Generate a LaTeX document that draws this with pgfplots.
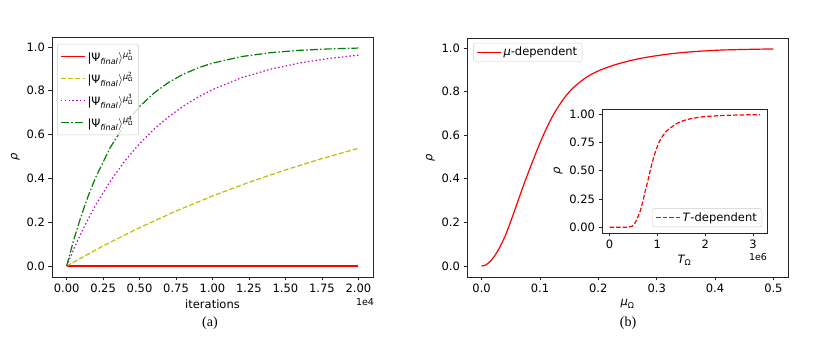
\documentclass[border=0pt]{standalone}
\usepackage{amsmath}
\usepackage{fontspec}
\setmainfont{DejaVu Sans}
\newfontfamily\capfont{Liberation Serif}
\usepackage{pgfplots}
\pgfplotsset{compat=1.18}

\definecolor{mplred}{rgb}{1,0,0}
\definecolor{mplyellow}{rgb}{0.75,0.75,0}
\definecolor{mplmagenta}{rgb}{0.75,0,0.75}
\definecolor{mplgreen}{rgb}{0,0.5,0}

\pgfplotsset{
  mpl/.style={
    scale only axis,
    axis line style={black!85, line width=0.6pt},
    tick align=outside,
    xtick pos=bottom, ytick pos=left,
    major tick length=3.5pt,
    tick style={black!85, line width=0.6pt},
    /pgf/number format/assume math mode=true,
    ticklabel style={font=\fontsize{11.5}{13}\selectfont},
    label style={font=\fontsize{11.5}{13}\selectfont},
    scaled ticks=false,
    axis background/.style={fill=white},
    legend cell align=left,
    legend style={draw=black!20, rounded corners=2pt, fill=white, fill opacity=0.8,
      text opacity=1, font=\fontsize{11.5}{13}\selectfont, row sep=1pt,
      inner xsep=3pt, inner ysep=2pt},
    legend image code/.code={\draw[##1] (0pt,0pt) -- (24pt,0pt);},
  },
  yrho/.style={ylabel={\textit{ρ}}},
}

\begin{document}
\begin{tikzpicture}[x=1pt,y=1pt]
\useasboundingbox (0,0) rectangle (830,337);

% (a) convergence over iterations
\begin{axis}[mpl, at={(52pt,60pt)}, anchor=south west,
  width=321pt, height=240pt,
  xmin=-0.1, xmax=2.1, ymin=-0.05, ymax=1.045,
  xtick={0,0.25,...,2.0},
  xticklabel style={/pgf/number format/.cd, fixed, fixed zerofill, precision=2},
  ytick={0,0.2,...,1.0},
  yticklabel style={/pgf/number format/.cd, fixed, fixed zerofill, precision=1},
  xlabel={iterations}, yrho,
  legend style={at={(0.016,0.971)}, anchor=north west, row sep=5pt, inner ysep=4pt},
]
\addplot[mplred, line width=1.2pt] coordinates {(0,0) (2,0)};
\addlegendentry{$\text{|Ψ}_{\textit{final}}\rangle^{\text{\itshape μ}^{\text{1}}_{\text{Ω}}}$}
\addplot[mplyellow, line width=1.2pt, dash pattern=on 5pt off 2.2pt] coordinates {
(0,0) (0.25,0.0918) (0.5,0.1751) (0.75,0.2508) (1.0,0.3195) (1.25,0.3820)
(1.5,0.4387) (1.75,0.4902) (2.0,0.5370)};
\addlegendentry{$\text{|Ψ}_{\textit{final}}\rangle^{\text{\itshape μ}^{\text{2}}_{\text{Ω}}}$}
\addplot[mplmagenta, line width=1.2pt, dash pattern=on 1.4pt off 2.4pt] coordinates {
(0,0) (0.05,0.0785) (0.1,0.1508) (0.15,0.2175) (0.2,0.2789) (0.3,0.3877) (0.4,0.4800)
(0.5,0.5585) (0.6,0.6251) (0.7,0.6816) (0.8,0.7296) (0.9,0.7704) (1.0,0.8050)
(1.2,0.8594) (1.4,0.8986) (1.6,0.9269) (1.8,0.9473) (2.0,0.9620)};
\addlegendentry{$\text{|Ψ}_{\textit{final}}\rangle^{\text{\itshape μ}^{\text{3}}_{\text{Ω}}}$}
\addplot[mplgreen, line width=1.2pt, dash pattern=on 8pt off 2.2pt on 1.5pt off 2.2pt] coordinates {
(0,0) (0.05,0.1219) (0.1,0.2289) (0.15,0.3229) (0.2,0.4055) (0.3,0.5416) (0.4,0.6465)
(0.5,0.7275) (0.6,0.7899) (0.7,0.8380) (0.8,0.8751) (0.9,0.9037) (1.0,0.9257)
(1.2,0.9558) (1.4,0.9737) (1.6,0.9844) (1.8,0.9907) (2.0,0.9945)};
\addlegendentry{$\text{|Ψ}_{\textit{final}}\rangle^{\text{\itshape μ}^{\text{4}}_{\text{Ω}}}$}
\end{axis}

% (b) dependence on mu
\begin{axis}[mpl, at={(467pt,60pt)}, anchor=south west,
  width=321pt, height=239pt,
  xmin=-0.025, xmax=0.525, ymin=-0.05, ymax=1.045,
  xtick={0,0.1,...,0.5},
  xticklabel style={/pgf/number format/.cd, fixed, fixed zerofill, precision=1},
  ytick={0,0.2,...,1.0},
  yticklabel style={/pgf/number format/.cd, fixed, fixed zerofill, precision=1},
  xlabel={$\text{\itshape μ}_{\text{Ω}}$}, yrho,
  legend style={at={(0.019,0.979)}, anchor=north west},
]
\addplot[mplred, line width=1.2pt, smooth] coordinates {
(0,0) (0.007,0.005) (0.0142,0.02) (0.0213,0.043) (0.0284,0.073) (0.0355,0.11)
(0.0426,0.152) (0.054,0.235) (0.0653,0.321) (0.0767,0.405) (0.0954,0.534)
(0.1096,0.622) (0.1238,0.697) (0.1408,0.767) (0.1578,0.819)
(0.1807,0.867) (0.2033,0.898) (0.2318,0.925) (0.271,0.951) (0.316,0.970)
(0.356,0.981) (0.413,0.990) (0.5,0.995)};
\addlegendentry{\textit{μ}-dependent}
\end{axis}

% inset: dependence on T
\begin{axis}[mpl, at={(602pt,104pt)}, anchor=south west,
  width=165pt, height=124pt,
  xmin=-0.157, xmax=3.29, ymin=-0.05, ymax=1.045,
  xtick={0,1,2,3},
  ytick={0,0.25,...,1.0},
  yticklabel style={/pgf/number format/.cd, fixed, fixed zerofill, precision=2},
  xlabel={$\text{\itshape T}_{\text{Ω}}$}, yrho,
  legend style={at={(0.97,0.048)}, anchor=south east},
]
\addplot[mplred, line width=1.2pt, smooth, dash pattern=on 4.5pt off 2pt] coordinates {
(0,0) (0.2,0) (0.4,0.002) (0.47,0.01) (0.535,0.04) (0.6,0.1) (0.64,0.143) (0.7,0.235)
(0.74,0.31) (0.8,0.41) (0.85,0.50) (0.9,0.585) (0.95,0.655) (1.0,0.715) (1.05,0.765)
(1.1,0.80) (1.17,0.84) (1.26,0.874) (1.36,0.905) (1.47,0.93) (1.62,0.952) (1.82,0.968)
(1.96,0.977) (2.3,0.986) (2.7,0.992) (3.14,0.995)};
\addlegendentry{\textit{T}-dependent}
\end{axis}

% offset texts and captions
\node[font=\fontsize{9.5}{11}\selectfont] at (365,35) {1e4};
\node[font=\fontsize{9.5}{11}\selectfont] at (758,80) {1e6};
\node[font=\capfont\fontsize{14}{16}\selectfont] at (210,14) {(a)};
\node[font=\capfont\fontsize{14}{16}\selectfont] at (628,14) {(b)};
\end{tikzpicture}
\end{document}
